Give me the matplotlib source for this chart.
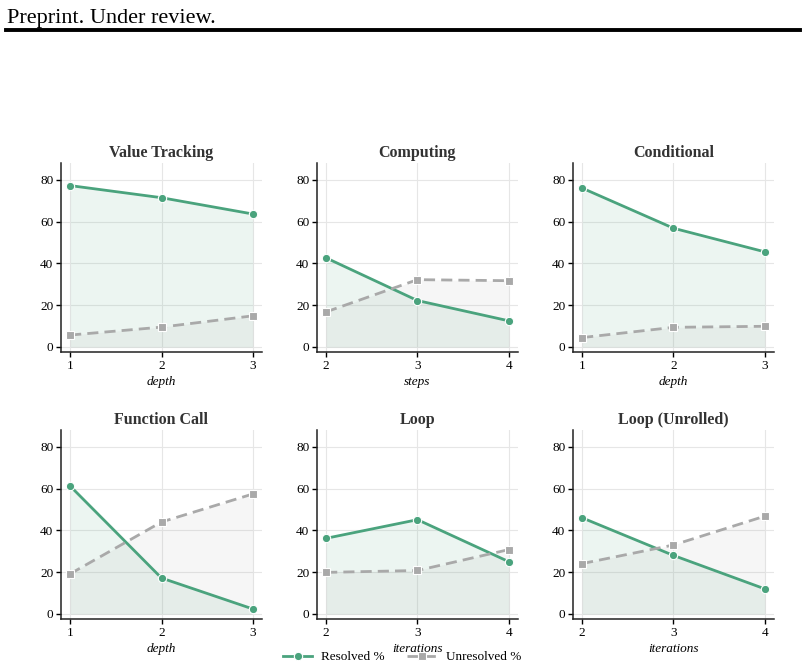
import numpy as np
import matplotlib.pyplot as plt

plt.rcParams['font.family'] = ['Liberation Serif', 'DejaVu Serif']

titles = ["Value Tracking", "Computing", "Conditional",
          "Function Call", "Loop", "Loop (Unrolled)"]
xlabels = ["depth", "steps", "depth", "depth", "iterations", "iterations"]
xvals = [[1, 2, 3], [2, 3, 4], [1, 2, 3], [1, 2, 3], [2, 3, 4], [2, 3, 4]]
resolved = [
    [77.2, 71.4, 63.6],
    [42.6, 22.2, 12.5],
    [76.0, 56.8, 45.5],
    [61.2, 17.2, 2.4],
    [36.2, 45.1, 25.0],
    [46.0, 28.0, 12.0],
]
unresolved = [
    [5.7, 9.5, 14.9],
    [16.8, 32.2, 31.7],
    [4.5, 9.4, 9.9],
    [19.2, 44.0, 57.4],
    [19.9, 20.8, 30.8],
    [24.1, 33.0, 46.8],
]

GREEN = '#4aa37d'
GRAY = '#a9a9a9'

fig = plt.figure(figsize=(8.04, 6.67), dpi=100)

# page header
fig.text(0.009, 1 - 22.5 / 667, "Preprint. Under review.", fontsize=16,
         family=['Liberation Serif'], ha='left', va='baseline')
fig.add_artist(plt.Line2D([0.007, 0.995], [1 - 29.5 / 667, 1 - 29.5 / 667],
                          color='black', lw=2.8, transform=fig.transFigure))

W, H = 804, 667
lefts = [61, 317, 573]
tops = [163, 430]
aw, ah = 201, 189

axes = []
for r in range(2):
    for c in range(3):
        ax = fig.add_axes([lefts[c] / W, 1 - (tops[r] + ah) / H, aw / W, ah / H])
        axes.append(ax)

for i, ax in enumerate(axes):
    x = xvals[i]
    ax.fill_between(x, 0, resolved[i], color=GREEN, alpha=0.1, lw=0)
    ax.fill_between(x, 0, unresolved[i], color=GRAY, alpha=0.1, lw=0)
    ax.plot(x, resolved[i], color=GREEN, lw=2, marker='o', ms=6,
            mec='white', mew=0.8, label='Resolved %', zorder=3)
    ax.plot(x, unresolved[i], color=GRAY, lw=2, ls='--', dashes=(4, 2.2),
            marker='s', ms=5.5, mec='white', mew=0.8, label='Unresolved %', zorder=3)
    ax.set_title(titles[i], fontsize=11.5, fontweight='bold', color='#333333', pad=4)
    ax.set_xlabel(xlabels[i], fontsize=9.5, style='italic', labelpad=3)
    ax.set_xticks(x)
    ax.set_xlim(x[0] - 0.1, x[-1] + 0.1)
    ax.set_ylim(-2.4, 88)
    ax.set_yticks([0, 20, 40, 60, 80])
    ax.tick_params(labelsize=9.5, length=3.5, width=1, pad=2)
    ax.grid(True, color='#e6e6e6', lw=0.8)
    ax.set_axisbelow(True)
    for s in ['top', 'right']:
        ax.spines[s].set_visible(False)
    for s in ['left', 'bottom']:
        ax.spines[s].set_linewidth(1.1)
        ax.spines[s].set_color('#222222')

handles, labels = axes[0].get_legend_handles_labels()
fig.legend(handles, labels, loc='center', bbox_to_anchor=(0.5, 1 - 657 / H),
           ncol=2, frameon=False, fontsize=9.5, columnspacing=1.7,
           handlelength=2.2, handletextpad=0.7, borderaxespad=0)

fig.savefig('out.png', dpi=100)
